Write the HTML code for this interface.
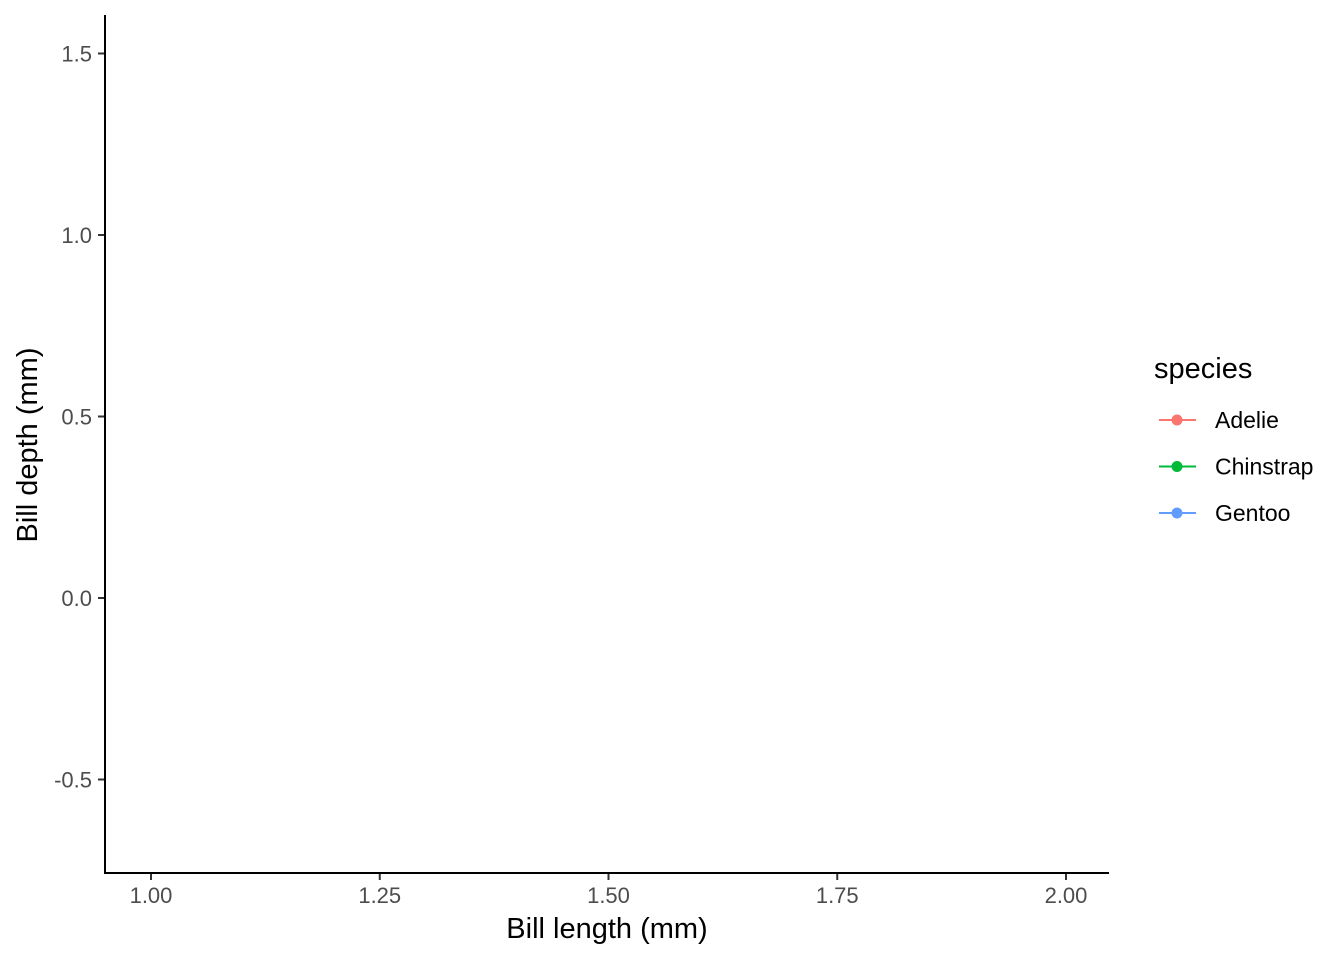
<!DOCTYPE html>
<html><head><meta charset="utf-8"><style>
html,body{margin:0;padding:0;background:#fff;}
svg{display:block;font-family:"Liberation Sans",sans-serif;}
</style></head><body>
<svg id="chart" width="1344" height="960" viewBox="0 0 1344 960">
<rect width="1344" height="960" fill="#fff"/>
<g id="plot"></g>
<g id="legend"></g>
</svg>
<script>
const xTicks = [1.00, 1.25, 1.50, 1.75, 2.00];
const xTickLabels = ["1.00", "1.25", "1.50", "1.75", "2.00"];
const yTicks = [-0.5, 0.0, 0.5, 1.0, 1.5];
const yTickLabels = ["-0.5", "0.0", "0.5", "1.0", "1.5"];
const species = ["Adelie", "Chinstrap", "Gentoo"];
const speciesColors = ["#F8766D", "#00BA38", "#619CFF"];
const adelieX = [], adelieY = [];
const chinstrapX = [], chinstrapY = [];
const gentooX = [], gentooY = [];

const NS = "http://www.w3.org/2000/svg";
function mk(tag, attrs, parent){const e=document.createElementNS(NS,tag);for(const k in attrs)e.setAttribute(k,attrs[k]);parent.appendChild(e);return e;}
const sx = v => 151 + (v - 1) * 915;
const sy = v => 598 - v * 363;
const plot = document.getElementById('plot');
const legend = document.getElementById('legend');

const yAxis = mk('line',{x1:105,y1:15,x2:105,y2:874,stroke:'#000','stroke-width':2},plot);


const xAxis = mk('line',{x1:104,y1:873,x2:1109,y2:873,stroke:'#000','stroke-width':2},plot);



xTicks.forEach((v,i)=>{
  const t = mk('line',{x1:sx(v),y1:874,x2:sx(v),y2:880,stroke:'#333','stroke-width':2},plot);
  
  
  const l = mk('text',{x:sx(v),y:903,'text-anchor':'middle','font-size':22,fill:'#4d4d4d'},plot);
  l.textContent = xTickLabels[i];
  
  
});
yTicks.forEach((v,i)=>{
  const t = mk('line',{x1:98,y1:sy(v),x2:104,y2:sy(v),stroke:'#333','stroke-width':2},plot);
  
  
  const l = mk('text',{x:92,y:sy(v)+8,'text-anchor':'end','font-size':22,fill:'#4d4d4d'},plot);
  l.textContent = yTickLabels[i];
  
  
});
const seriesX=[adelieX,chinstrapX,gentooX], seriesY=[adelieY,chinstrapY,gentooY];
seriesX.forEach((xs,s)=>{xs.forEach((x,j)=>{
  const c = mk('circle',{cx:sx(x),cy:sy(seriesY[s][j]),r:4,fill:speciesColors[s]},plot);
  
  
});});

const xt = mk('text',{x:607,y:938,'text-anchor':'middle','font-size':29,fill:'#000'},plot);
xt.textContent='Bill length (mm)';


const yt = mk('text',{x:0,y:0,'text-anchor':'middle','font-size':29,fill:'#000',transform:'translate(37,445) rotate(-90)'},plot);
yt.textContent='Bill depth (mm)';



const lt = mk('text',{x:1154,y:378,'font-size':29,fill:'#000'},legend);
lt.textContent='species';


species.forEach((s,i)=>{
  const y = 420 + i*46.5;
  const g = mk('g',{},legend);
  
  
  mk('line',{x1:1159,y1:y,x2:1196,y2:y,stroke:speciesColors[i],'stroke-width':2},g);
  mk('circle',{cx:1177,cy:y,r:5.5,fill:speciesColors[i]},g);
  const t = mk('text',{x:1215,y:y+8,'font-size':23,fill:'#000'},g);
  t.textContent=s;
});
</script>
</body></html>
